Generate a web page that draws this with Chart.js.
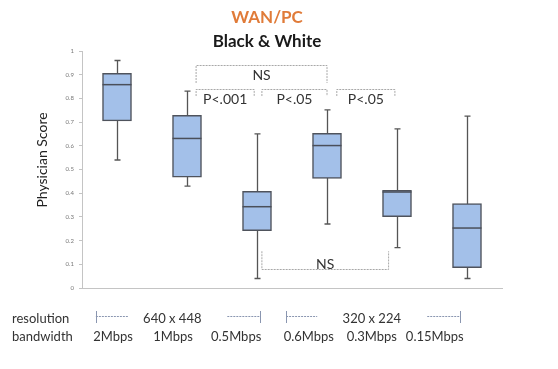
<!DOCTYPE html>
<html>
<head>
<meta charset="utf-8">
<script src="https://cdn.jsdelivr.net/npm/chart.js@4.4.1/dist/chart.umd.min.js"></script>
<style>
html,body{margin:0;padding:0;background:#fff;}
#wrap{width:558px;height:369px;position:relative;}
</style>
</head>
<body>
<div id="wrap"><canvas id="c" width="558" height="369"></canvas></div>
<script>
// ---- data ----
const categories = ['2Mbps', '1Mbps', '0.5Mbps', '0.6Mbps', '0.3Mbps', '0.15Mbps'];
const resolutions = ['640 x 448', '320 x 224'];
const whiskerLow  = [0.54, 0.43, 0.04, 0.27, 0.17, 0.04];
const q1          = [0.705, 0.468, 0.242, 0.462, 0.301, 0.086];
const median      = [0.858, 0.631, 0.343, 0.601, 0.405, 0.253];
const q3          = [0.906, 0.729, 0.408, 0.653, 0.412, 0.356];
const whiskerHigh = [0.96, 0.831, 0.65, 0.752, 0.671, 0.725];
const yTicks = [0, 0.1, 0.2, 0.3, 0.4, 0.5, 0.6, 0.7, 0.8, 0.9, 1];
const yTickLabels = ['0', '0.1', '0.2', '0.3', '0.4', '0.5', '0.6', '0.7', '0.8', '0.9', '1'];
const title = 'WAN/PC';
const subtitle = 'Black & White';
const yTitle = 'Physician Score';
// significance brackets: label, from/to (category units), level (score units), placement
const brackets = [
  {label: 'NS',     from: 1.13, to: 3.0,  y: 0.94, leg: 0.075, up: false},
  {label: 'P<.001', from: 1.13, to: 1.96, y: 0.84, leg: 0.03,  up: false},
  {label: 'P<.05',  from: 2.07, to: 3.0,  y: 0.84, leg: 0.03,  up: false},
  {label: 'P<.05',  from: 3.14, to: 3.97, y: 0.84, leg: 0.03,  up: false},
  {label: 'NS',     from: 2.07, to: 3.88, y: 0.08, leg: 0.075, up: true}
];

const boxData = q1.map((v, i) => [v, q3[i]]);
const fontFam = 'Lato, "Open Sans", sans-serif';

const overlay = {
  id: 'overlay',
  beforeDatasetsDraw(chart) {
    const {ctx, scales: {x, y}} = chart;
    ctx.save();
    ctx.strokeStyle = '#555';
    ctx.lineWidth = 1.3;
    for (let i = 0; i < categories.length; i++) {
      const cx = Math.round(x.getPixelForValue(i)) + 0.5;
      const yl = y.getPixelForValue(whiskerLow[i]);
      const yh = y.getPixelForValue(whiskerHigh[i]);
      ctx.beginPath();
      ctx.moveTo(cx, yl); ctx.lineTo(cx, yh);
      ctx.moveTo(cx - 3, yl); ctx.lineTo(cx + 3, yl);
      ctx.moveTo(cx - 3, yh); ctx.lineTo(cx + 3, yh);
      ctx.stroke();
    }
    ctx.restore();
  },
  afterDatasetsDraw(chart) {
    const {ctx, scales: {x, y}, chartArea} = chart;
    ctx.save();
    // medians
    ctx.strokeStyle = '#4a4f5a';
    ctx.lineWidth = 1.5;
    const meta = chart.getDatasetMeta(0);
    for (let i = 0; i < categories.length; i++) {
      const bar = meta.data[i];
      const w = bar.width;
      const ym = y.getPixelForValue(median[i]);
      ctx.beginPath();
      ctx.moveTo(bar.x - w / 2, ym); ctx.lineTo(bar.x + w / 2, ym);
      ctx.stroke();
    }
    // brackets
    ctx.strokeStyle = '#a8a8a8';
    ctx.lineWidth = 1;
    ctx.setLineDash([2, 1]);
    ctx.fillStyle = '#333';
    ctx.font = '14px ' + fontFam;
    ctx.textAlign = 'center';
    for (const b of brackets) {
      const x1 = x.getPixelForValue(b.from), x2 = x.getPixelForValue(b.to);
      const yy = Math.round(y.getPixelForValue(b.y)) + 0.5;
      const legEnd = y.getPixelForValue(b.up ? b.y + b.leg : b.y - b.leg);
      ctx.beginPath();
      ctx.moveTo(x1, legEnd); ctx.lineTo(x1, yy); ctx.lineTo(x2, yy); ctx.lineTo(x2, legEnd);
      ctx.stroke();
      const tx = (x1 + x2) / 2;
      if (b.up) {
        ctx.textBaseline = 'bottom';
        ctx.fillText(b.label, tx, yy + 2);
      } else {
        ctx.textBaseline = 'top';
        ctx.fillText(b.label, tx, yy + 3);
      }
    }
    ctx.setLineDash([]);
    // titles
    ctx.textBaseline = 'middle';
    ctx.font = 'bold 17px ' + fontFam;
    ctx.fillStyle = '#e07b39';
    ctx.fillText(title, 267, 18);
    ctx.font = 'bold 17px ' + fontFam;
    ctx.fillStyle = '#1a1a1a';
    ctx.fillText(subtitle, 267, 42);
    // y title
    ctx.save();
    ctx.translate(42, 160);
    ctx.rotate(-Math.PI / 2);
    ctx.font = '14px ' + fontFam;
    ctx.fillStyle = '#222';
    ctx.fillText(yTitle, 0, 0);
    ctx.restore();
    // bottom table
    const L = chartArea.left, W = chartArea.right - chartArea.left;
    const px = f => L + f * W;
    ctx.font = '13px ' + fontFam;
    ctx.fillStyle = '#333';
    ctx.textAlign = 'left';
    ctx.fillText('resolution', 12, 319);
    ctx.fillText('bandwidth', 12, 337);
    ctx.textAlign = 'center';
    const bwPos = [0.074, 0.217, 0.367, 0.540, 0.690, 0.840];
    categories.forEach((c, i) => ctx.fillText(c, px(bwPos[i]), 337));
    const resPos = [0.215, 0.690];
    resolutions.forEach((r, i) => ctx.fillText(r, px(resPos[i]), 319));
    // range markers
    ctx.strokeStyle = '#8a96b0';
    ctx.lineWidth = 1;
    const ranges = [[0.033, 0.110, 0.346, 0.423], [0.486, 0.560, 0.822, 0.900]];
    ctx.setLineDash([2, 1]);
    for (const r of ranges) {
      ctx.beginPath();
      ctx.moveTo(px(r[0]), 316.5); ctx.lineTo(px(r[1]), 316.5);
      ctx.moveTo(px(r[2]), 316.5); ctx.lineTo(px(r[3]), 316.5);
      ctx.stroke();
    }
    ctx.setLineDash([]);
    for (const r of ranges) {
      ctx.beginPath();
      ctx.moveTo(Math.round(px(r[0])) + 0.5, 311); ctx.lineTo(Math.round(px(r[0])) + 0.5, 323);
      ctx.moveTo(Math.round(px(r[3])) + 0.5, 311); ctx.lineTo(Math.round(px(r[3])) + 0.5, 323);
      ctx.stroke();
    }
    ctx.restore();
  }
};

new Chart(document.getElementById('c'), {
  type: 'bar',
  data: {
    labels: categories,
    datasets: [{
      data: boxData,
      backgroundColor: '#a3c0e9',
      borderColor: '#4f535c',
      borderWidth: 1.5,
      borderSkipped: false,
      barThickness: 29
    }]
  },
  options: {
    responsive: false,
    animation: false,
    layout: {padding: {left: 0, right: 56, top: 51, bottom: 73}},
    plugins: {legend: {display: false}, tooltip: {enabled: false}, title: {display: false}},
    scales: {
      x: {
        type: 'category',
        offset: true,
        ticks: {display: false},
        grid: {display: false},
        border: {display: true, color: '#c4c4c4', width: 1}
      },
      y: {
        min: 0, max: 1,
        afterBuildTicks(s) { s.ticks = yTicks.map(v => ({value: v})); },
        afterFit(s) { s.width = 82; },
        ticks: {
          font: {size: 6, family: fontFam}, color: '#777', padding: 5,
          callback: (v, i) => yTickLabels[i]
        },
        grid: {drawOnChartArea: false, drawTicks: true, tickLength: 3, color: '#c4c4c4'},
        border: {display: true, color: '#c4c4c4', width: 1}
      }
    }
  },
  plugins: [overlay]
});
</script>
</body>
</html>
